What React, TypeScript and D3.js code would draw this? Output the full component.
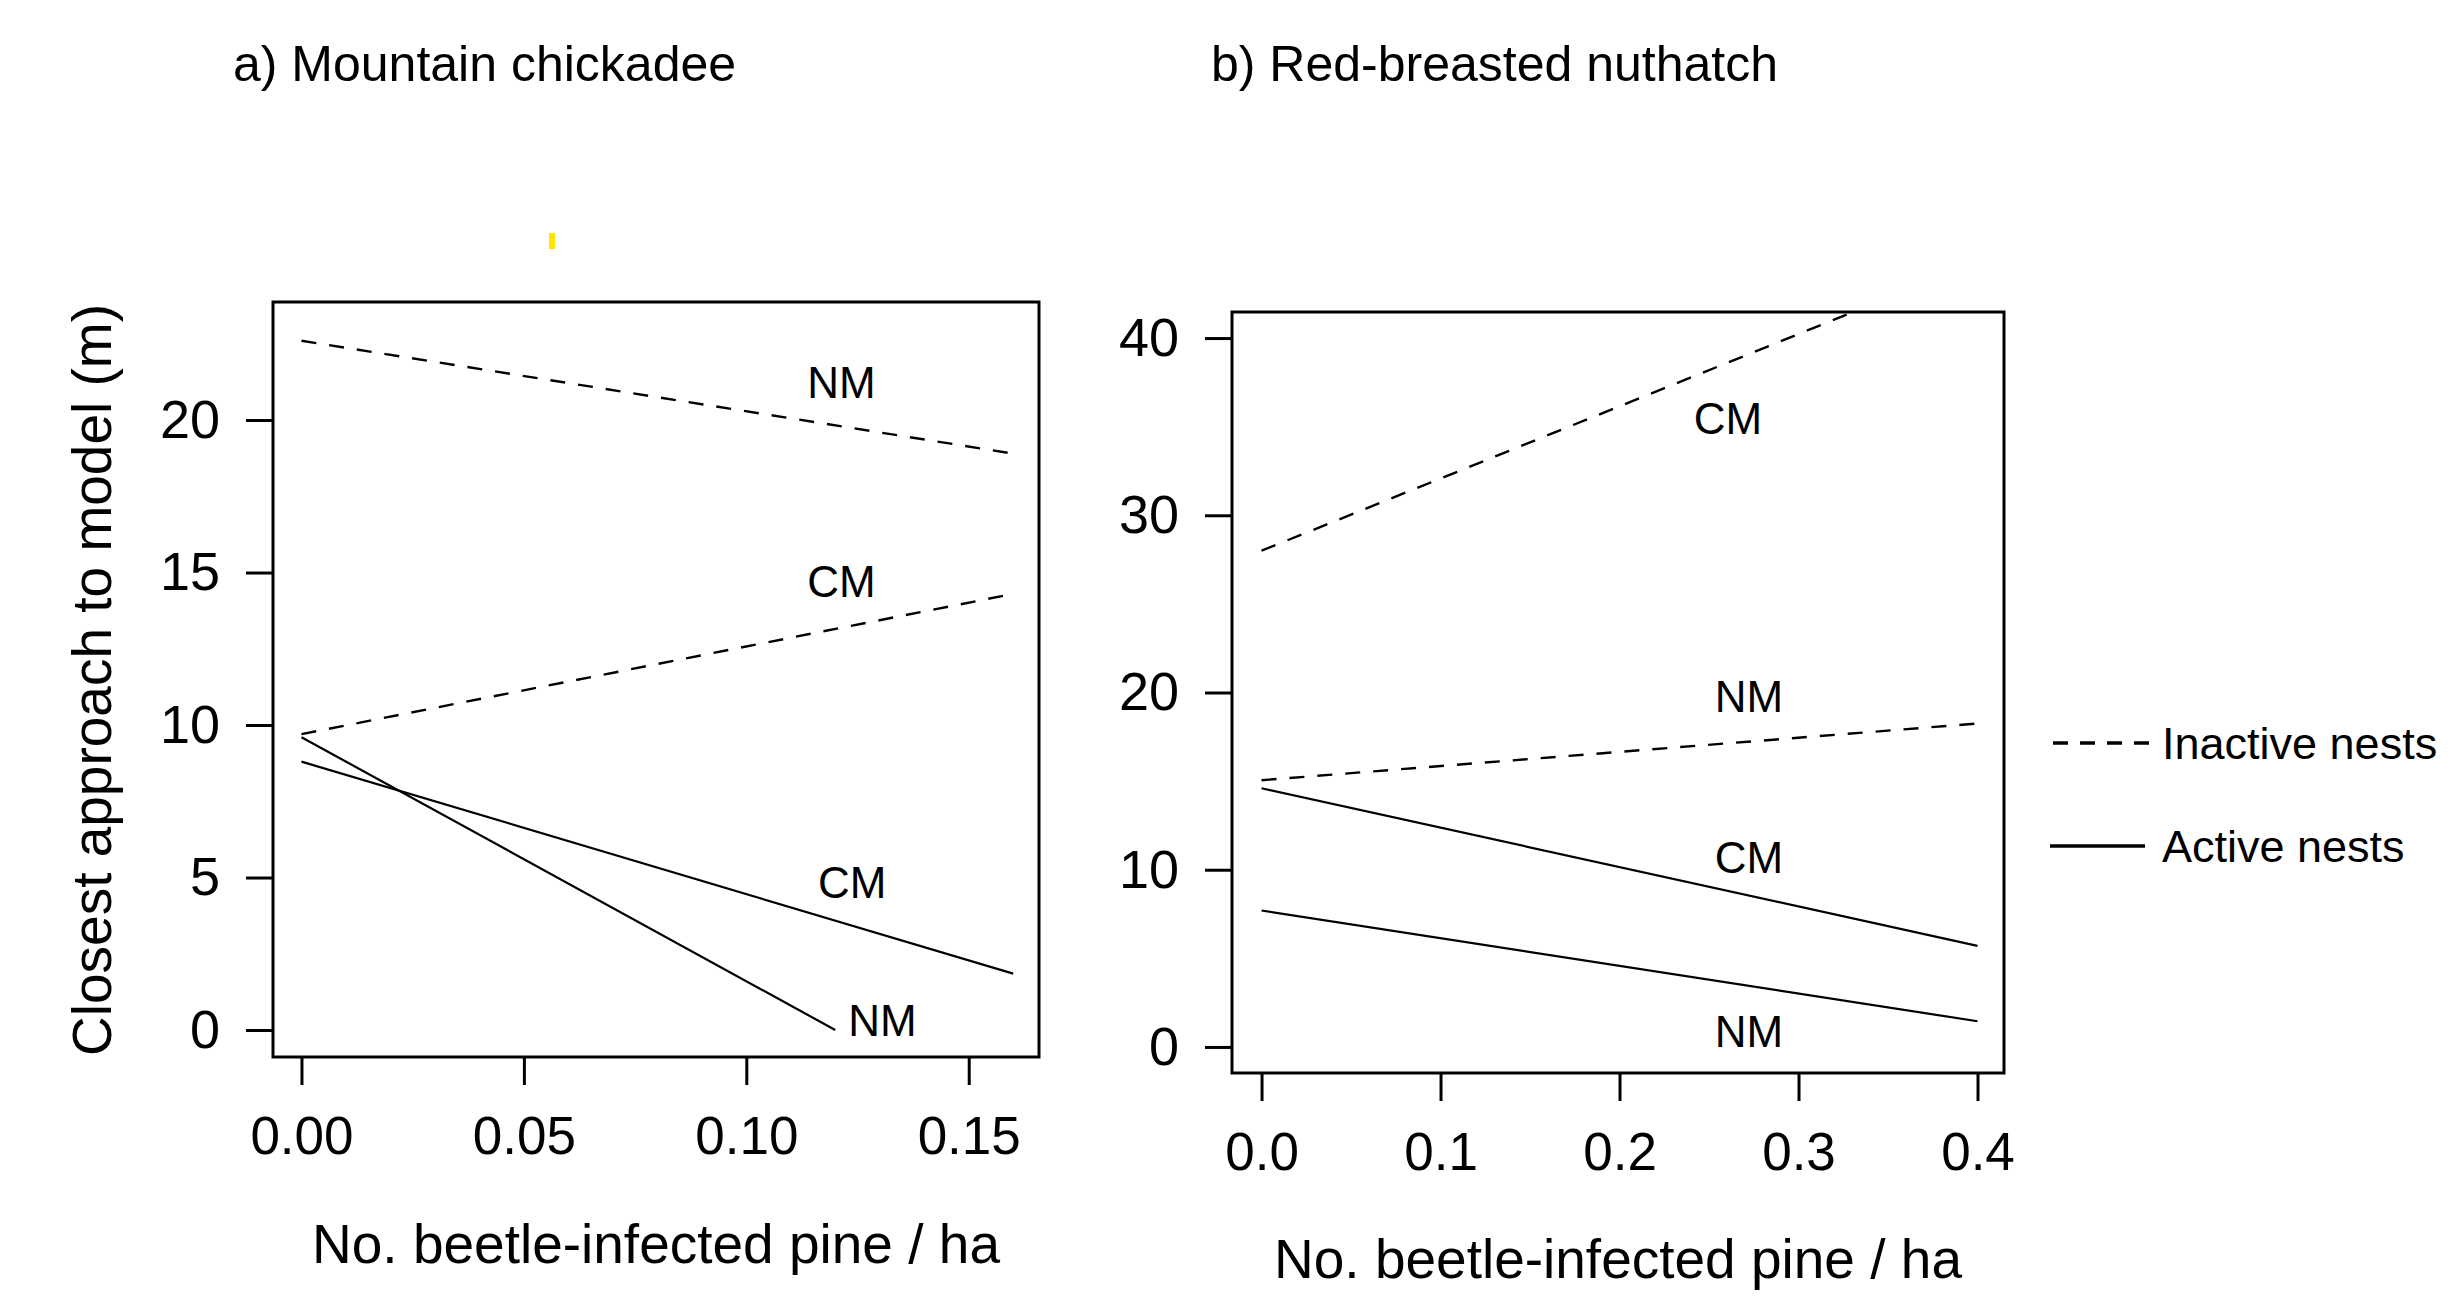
import React, { useEffect, useRef } from "react";
import * as d3 from "d3";

// Fitted lines: [x, y] at the start and end of each line
const chickadeeInactiveNM = [[0, 22.6], [0.16, 18.9]];
const chickadeeInactiveCM = [[0, 9.7], [0.16, 14.3]];
const chickadeeActiveCM = [[0, 8.8], [0.16, 1.85]];
const chickadeeActiveNM = [[0, 9.6], [0.12, 0]];

const nuthatchInactiveCM = [[0, 28.0], [0.4, 44.3]];
const nuthatchInactiveNM = [[0, 15.05], [0.4, 18.25]];
const nuthatchActiveCM = [[0, 14.6], [0.4, 5.7]];
const nuthatchActiveNM = [[0, 7.7], [0.4, 1.45]];

// Line labels: [x, y, text]
const chickadeeLabels = [[0.1214, 21.25, "NM"], [0.1214, 14.72, "CM"], [0.1238, 4.85, "CM"], [0.1306, 0.33, "NM"]];
const nuthatchLabels = [[0.2606, 35.5, "CM"], [0.2723, 19.8, "NM"], [0.2723, 10.7, "CM"], [0.2723, 0.9, "NM"]];

const chickadeeXTicks = [0, 0.05, 0.1, 0.15];
const chickadeeYTicks = [0, 5, 10, 15, 20];
const nuthatchXTicks = [0, 0.1, 0.2, 0.3, 0.4];
const nuthatchYTicks = [0, 10, 20, 30, 40];

const FONT = "'Liberation Sans', Arial, sans-serif";
const DASH = "15,13";

const App = () => {
    const svgRef = useRef(null);

    useEffect(() => {
        const svg = d3.select(svgRef.current);
        svg.selectAll("*").remove();

        const drawPanel = (cfg) => {
            const x = d3.scaleLinear().domain(cfg.xDomain).range([cfg.left, cfg.right]);
            const y = d3.scaleLinear().domain(cfg.yDomain).range([cfg.bottom, cfg.top]);
            const g = svg.append("g");

            g.append("defs").append("clipPath").attr("id", cfg.id)
                .append("rect")
                .attr("x", cfg.left).attr("y", cfg.top)
                .attr("width", cfg.right - cfg.left).attr("height", cfg.bottom - cfg.top);

            const line = d3.line().x(d => x(d[0])).y(d => y(d[1]));
            const lines = g.append("g").attr("clip-path", `url(#${cfg.id})`);
            cfg.dashed.forEach(pts => {
                lines.append("path").datum(pts).attr("d", line)
                    .attr("fill", "none").attr("stroke", "#000")
                    .attr("stroke-width", 2.4).attr("stroke-dasharray", DASH);
            });
            cfg.solid.forEach(pts => {
                lines.append("path").datum(pts).attr("d", line)
                    .attr("fill", "none").attr("stroke", "#000")
                    .attr("stroke-width", 2.2);
            });

            // frame
            g.append("rect")
                .attr("x", cfg.left).attr("y", cfg.top)
                .attr("width", cfg.right - cfg.left).attr("height", cfg.bottom - cfg.top)
                .attr("fill", "none").attr("stroke", "#000").attr("stroke-width", 3);

            // axes: ticks only, the frame stands in for the axis lines
            const xa = g.append("g")
                .attr("transform", `translate(0,${cfg.bottom})`)
                .call(d3.axisBottom(x).tickValues(cfg.xTicks).tickSize(28).tickPadding(31).tickFormat(cfg.xFormat));
            xa.select(".domain").remove();
            xa.selectAll("line").attr("stroke-width", 3);
            xa.selectAll("text").attr("font-family", FONT).attr("font-size", 53).attr("fill", "#000");

            const ya = g.append("g")
                .attr("transform", `translate(${cfg.left},0)`)
                .call(d3.axisLeft(y).tickValues(cfg.yTicks).tickSize(27).tickPadding(26).tickFormat(d3.format("d")));
            ya.select(".domain").remove();
            ya.selectAll("line").attr("stroke-width", 3);
            ya.selectAll("text").attr("font-family", FONT).attr("font-size", 54).attr("fill", "#000");

            cfg.labels.forEach(l => {
                g.append("text")
                    .attr("x", x(l[0])).attr("y", y(l[1]))
                    .attr("dy", "0.36em")
                    .attr("text-anchor", "middle")
                    .attr("font-family", FONT).attr("font-size", 44)
                    .text(l[2]);
            });

            g.append("text")
                .attr("x", (cfg.left + cfg.right) / 2)
                .attr("y", cfg.xTitleY)
                .attr("dy", "0.36em")
                .attr("text-anchor", "middle")
                .attr("font-family", FONT).attr("font-size", 55)
                .text("No. beetle-infected pine / ha");

            g.append("text")
                .attr("x", cfg.titleX).attr("y", 63)
                .attr("dy", "0.36em")
                .attr("font-family", FONT).attr("font-size", 50)
                .text(cfg.title);
        };

        drawPanel({
            id: "clip-a",
            left: 273, right: 1039, top: 302, bottom: 1057,
            xDomain: [-0.0064, 0.1658], yDomain: [-0.885, 23.87],
            xTicks: chickadeeXTicks, yTicks: chickadeeYTicks,
            xFormat: d3.format(".2f"),
            dashed: [chickadeeInactiveNM, chickadeeInactiveCM],
            solid: [chickadeeActiveCM, chickadeeActiveNM],
            labels: chickadeeLabels,
            xTitleY: 1243,
            titleX: 233, title: "a) Mountain chickadee"
        });

        drawPanel({
            id: "clip-b",
            left: 1232, right: 2004, top: 312, bottom: 1073,
            xDomain: [-0.0165, 0.4148], yDomain: [-1.47, 41.47],
            xTicks: nuthatchXTicks, yTicks: nuthatchYTicks,
            xFormat: d3.format(".1f"),
            dashed: [nuthatchInactiveCM, nuthatchInactiveNM],
            solid: [nuthatchActiveCM, nuthatchActiveNM],
            labels: nuthatchLabels,
            xTitleY: 1258,
            titleX: 1211, title: "b) Red-breasted nuthatch"
        });

        // y axis title (shared)
        svg.append("text")
            .attr("transform", "translate(91,680) rotate(-90)")
            .attr("dy", "0.36em")
            .attr("text-anchor", "middle")
            .attr("font-family", FONT).attr("font-size", 55)
            .text("Closest approach to model (m)");

        // legend
        const legend = svg.append("g");
        legend.append("line")
            .attr("x1", 2053).attr("x2", 2150).attr("y1", 743).attr("y2", 743)
            .attr("stroke", "#000").attr("stroke-width", 3.5).attr("stroke-dasharray", "15,12");
        legend.append("line")
            .attr("x1", 2050).attr("x2", 2145).attr("y1", 846).attr("y2", 846)
            .attr("stroke", "#000").attr("stroke-width", 3.5);
        legend.append("text")
            .attr("x", 2162).attr("y", 743).attr("dy", "0.36em")
            .attr("font-family", FONT).attr("font-size", 45)
            .text("Inactive nests");
        legend.append("text")
            .attr("x", 2162).attr("y", 846).attr("dy", "0.36em")
            .attr("font-family", FONT).attr("font-size", 45)
            .text("Active nests");

        // small yellow stroke above panel a
        svg.append("rect")
            .attr("x", 549).attr("y", 233).attr("width", 6).attr("height", 16)
            .attr("fill", "#ffe500");
    }, []);

    return (
        <svg ref={svgRef} width="2457" height="1311"
            style={{ position: "absolute", left: 0, top: 0, background: "#fff" }}></svg>
    );
};

export default App;
